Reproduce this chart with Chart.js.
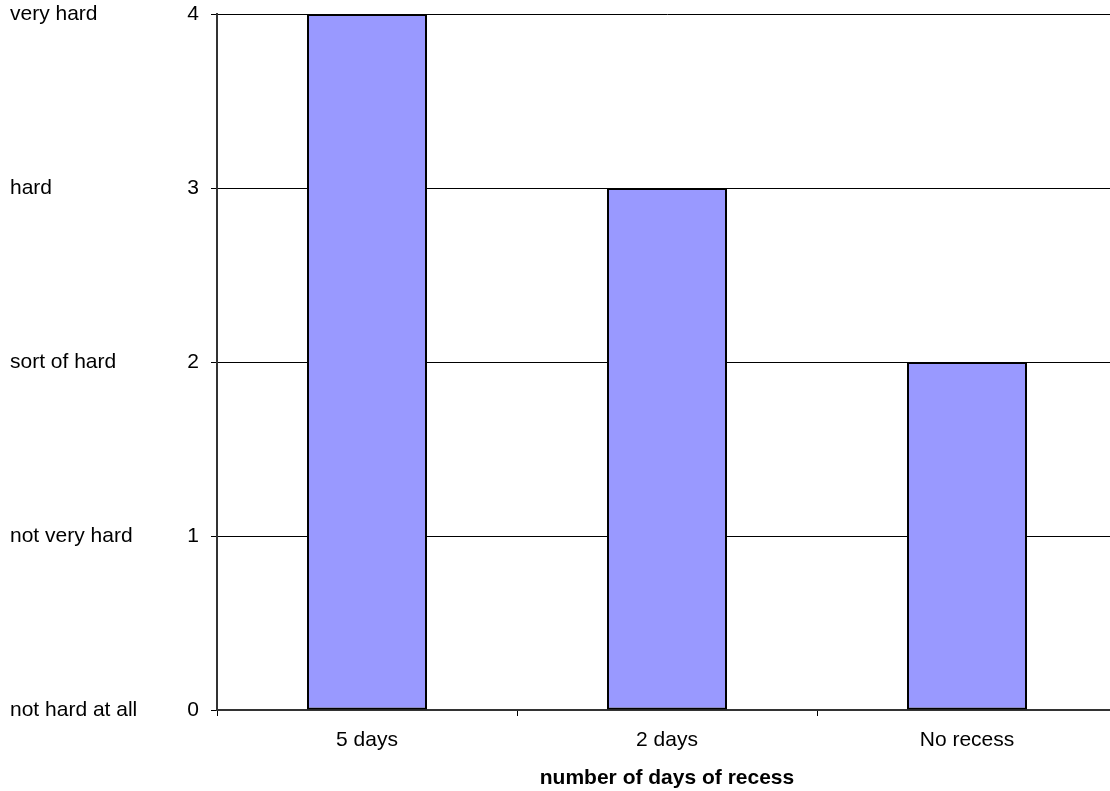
<!DOCTYPE html>
<html>
<head>
<meta charset="utf-8">
<script src="https://cdn.jsdelivr.net/npm/chart.js@4/dist/chart.umd.min.js"></script>
<style>
  html, body { margin: 0; padding: 0; background: #fff; overflow: hidden; }
  #wrap { width: 1120px; height: 791px; }
</style>
</head>
<body>
<div id="wrap"><canvas id="chart"></canvas></div>
<script>
"use strict";

const categories = ["5 days", "2 days", "No recess"];
const difficulty = [4, 3, 2];
const levelNames = ["not hard at all", "not very hard", "sort of hard", "hard", "very hard"];
const xTitle = "number of days of recess";

const font = { family: "'Liberation Sans', Arial, sans-serif", size: 21 };

// let the top label stick out above the plot instead of pushing it down
function noVerticalPadding(scale) {
  scale.paddingTop = 0;
  scale.paddingBottom = 0;
}

const ctx = document.getElementById("chart").getContext("2d");
const chart = new Chart(ctx, {
  type: "bar",
  data: {
    labels: categories,
    datasets: [{
      data: difficulty,
      backgroundColor: "#9999FF",
      borderColor: "#000000",
      borderWidth: 2,
      borderSkipped: false,
      barPercentage: 0.4,
      categoryPercentage: 1.0
    }]
  },
  options: {
    responsive: true,
    maintainAspectRatio: false,
    animation: false,
    layout: { padding: { top: 14, right: 3, left: 10, bottom: 0 } },
    plugins: {
      legend: { display: false },
      tooltip: { enabled: false }
    },
    scales: {
      x: {
        grid: {
          offset: true,
          drawOnChartArea: false,
          drawTicks: true,
          tickLength: 6,
          tickColor: "#000"
        },
        border: { color: "#333", width: 2 },
        ticks: { color: "#000", font: font, padding: 12 },
        title: {
          display: true,
          text: xTitle,
          color: "#000",
          font: { family: font.family, size: 21, weight: "bold" },
          padding: { top: 0, bottom: 0 }
        },
        afterFit: function(scale) { scale.height = 81; }
      },
      y: {
        position: "left",
        weight: 0,
        min: 0,
        max: 4,
        grid: {
          color: "#000",
          lineWidth: 1,
          drawTicks: true,
          tickLength: 6,
          tickColor: "#000"
        },
        border: { color: "#333", width: 2 },
        ticks: { stepSize: 1, color: "#000", font: font, padding: 12 },
        afterFit: function(scale) {
          scale.width = 57;
          noVerticalPadding(scale);
        }
      },
      y2: {
        position: "left",
        weight: 1,
        min: 0,
        max: 4,
        grid: { display: false },
        border: { display: false },
        ticks: {
          stepSize: 1,
          color: "#000",
          font: font,
          crossAlign: "far",
          callback: function(value) { return levelNames[value]; }
        },
        afterFit: function(scale) {
          scale.width = 150;
          noVerticalPadding(scale);
        }
      }
    }
  }
});
</script>
</body>
</html>
